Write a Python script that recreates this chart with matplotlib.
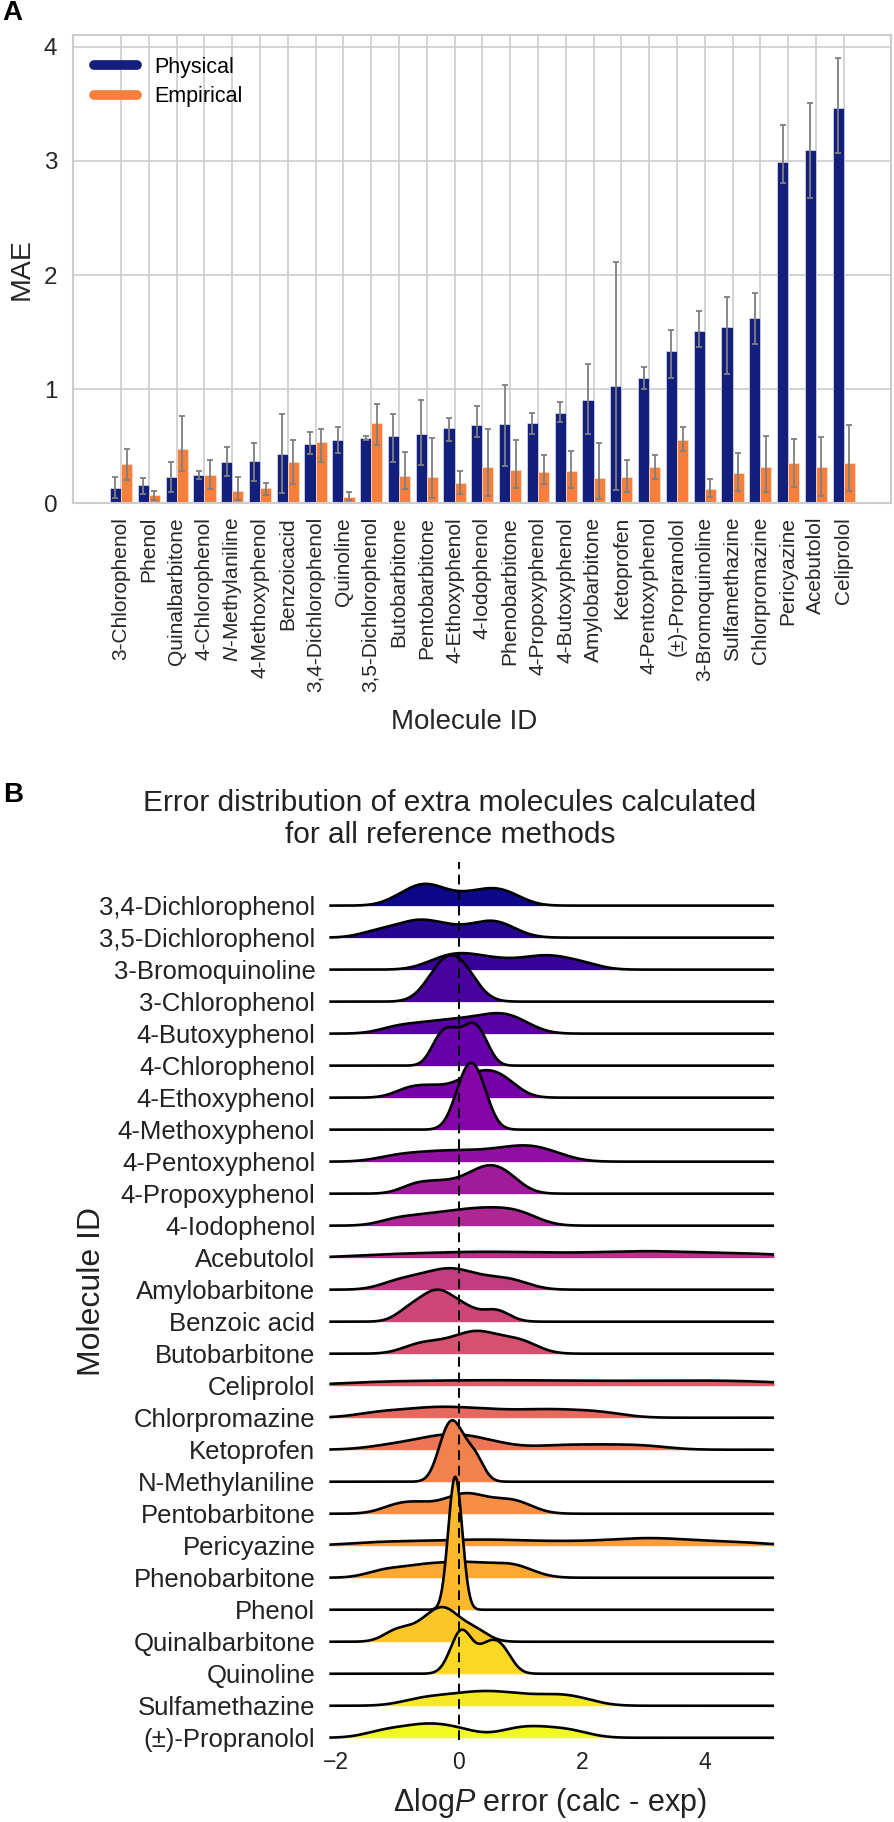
import numpy as np
import matplotlib
matplotlib.use("Agg")
import matplotlib.pyplot as plt
from matplotlib.lines import Line2D

plt.rcParams['font.family'] = ['Liberation Sans', 'DejaVu Sans']
plt.rcParams['mathtext.fontset'] = 'custom'
plt.rcParams['mathtext.rm'] = 'Liberation Sans'
plt.rcParams['mathtext.it'] = 'Liberation Sans:italic'

# ---- panel A data: MAE per molecule with confidence interval ----
bar_molecules = ["3-Chlorophenol", "Phenol", "Quinalbarbitone", "4-Chlorophenol",
                 r"$\mathit{N}$-Methylaniline", "4-Methoxyphenol", "Benzoicacid",
                 "3,4-Dichlorophenol", "Quinoline", "3,5-Dichlorophenol", "Butobarbitone",
                 "Pentobarbitone", "4-Ethoxyphenol", "4-Iodophenol", "Phenobarbitone",
                 "4-Propoxyphenol", "4-Butoxyphenol", "Amylobarbitone", "Ketoprofen",
                 "4-Pentoxyphenol", "(±)-Propranolol", "3-Bromoquinoline", "Sulfamethazine",
                 "Chlorpromazine", "Pericyazine", "Acebutolol", "Celiprolol"]

physical_mae = [0.134, 0.155, 0.228, 0.246, 0.363, 0.368, 0.433, 0.517, 0.553, 0.570,
                0.585, 0.608, 0.661, 0.681, 0.696, 0.705, 0.792, 0.901, 1.026, 1.094,
                1.333, 1.506, 1.547, 1.620, 2.994, 3.094, 3.468]
physical_lo = [0.040, 0.076, 0.096, 0.213, 0.234, 0.190, 0.090, 0.433, 0.440, 0.550,
               0.357, 0.333, 0.547, 0.582, 0.325, 0.602, 0.711, 0.602, 0.117, 1.000,
               1.099, 1.371, 1.129, 1.395, 2.807, 2.678, 3.070]
physical_hi = [0.230, 0.220, 0.357, 0.278, 0.488, 0.526, 0.778, 0.626, 0.664, 0.590,
               0.780, 0.904, 0.749, 0.851, 1.035, 0.792, 0.886, 1.220, 2.110, 1.190,
               1.518, 1.684, 1.807, 1.845, 3.316, 3.506, 3.904]

empirical_mae = [0.340, 0.067, 0.474, 0.249, 0.110, 0.130, 0.360, 0.538, 0.056, 0.699,
                 0.234, 0.228, 0.175, 0.316, 0.287, 0.275, 0.278, 0.216, 0.231, 0.313,
                 0.553, 0.120, 0.263, 0.313, 0.354, 0.319, 0.351]
empirical_lo = [0.200, 0.024, 0.278, 0.123, 0.026, 0.070, 0.164, 0.363, 0.024, 0.506,
                0.123, 0.044, 0.079, 0.059, 0.129, 0.164, 0.129, 0.035, 0.096, 0.208,
                0.453, 0.053, 0.102, 0.096, 0.143, 0.061, 0.105]
empirical_hi = [0.470, 0.110, 0.766, 0.377, 0.230, 0.175, 0.555, 0.649, 0.094, 0.868,
                0.445, 0.570, 0.281, 0.646, 0.555, 0.424, 0.453, 0.529, 0.375, 0.424,
                0.667, 0.213, 0.436, 0.585, 0.558, 0.582, 0.687]

# ---- panel B data: logP errors of the reference methods per molecule ----
ridge_molecules = ["3,4-Dichlorophenol", "3,5-Dichlorophenol", "3-Bromoquinoline",
                   "3-Chlorophenol", "4-Butoxyphenol", "4-Chlorophenol", "4-Ethoxyphenol",
                   "4-Methoxyphenol", "4-Pentoxyphenol", "4-Propoxyphenol", "4-Iodophenol",
                   "Acebutolol", "Amylobarbitone", "Benzoic acid", "Butobarbitone",
                   "Celiprolol", "Chlorpromazine", "Ketoprofen", "N-Methylaniline",
                   "Pentobarbitone", "Pericyazine", "Phenobarbitone", "Phenol",
                   "Quinalbarbitone", "Quinoline", "Sulfamethazine", "(±)-Propranolol"]

ridge_errors = [
    [-0.9, -0.65, -0.5, -0.35, 0.05, 0.4, 0.6, 0.85],
    [-1.3, -0.85, -0.65, -0.45, -0.1, 0.35, 0.55, 0.75],
    [-0.35, -0.1, 0.1, 0.35, 0.7, 1.1, 1.4, 1.6, 2.0],
    [-0.35, -0.12, 0.1],
    [-1.0, -0.55, -0.2, 0.1, 0.4, 0.6, 0.8, 1.0],
    [-0.35, -0.2, -0.05, 0.15, 0.25, 0.4],
    [-0.8, -0.4, 0.05, 0.25, 0.45, 0.6, 0.8],
    [0.05, 0.2, 0.35],
    [-1.0, -0.5, -0.1, 0.3, 0.7, 1.0, 1.2, 1.5],
    [-0.7, -0.3, 0.1, 0.35, 0.5, 0.65, 0.85],
    [-1.0, -0.55, -0.2, 0.1, 0.35, 0.6, 0.85, 1.1],
    [-1.2, -0.3, 0.3, 0.9, 1.6, 2.4, 3.0, 3.4, 4.2, 5.0],
    [-1.0, -0.6, -0.3, -0.1, 0.1, 0.5, 0.9],
    [-0.8, -0.5, -0.35, -0.2, 0.1, 0.6],
    [-0.7, -0.35, 0.0, 0.2, 0.35, 0.55, 0.85, 1.1],
    [-1.5, -0.6, 0.2, 0.9, 1.7, 2.6, 3.4, 4.2, 5.0],
    [-1.3, -0.7, -0.3, 0.1, 0.6, 1.2, 1.7, 2.3],
    [-1.1, -0.6, -0.3, -0.15, 0.0, 0.25, 0.6, 1.6, 2.3, 3.0],
    [-0.25, -0.12, 0.0, 0.25],
    [-1.0, -0.6, -0.1, 0.1, 0.3, 0.7, 1.0],
    [-1.3, -0.4, 0.3, 0.9, 1.8, 2.7, 3.1, 3.6, 4.5],
    [-1.2, -0.7, -0.35, 0.0, 0.3, 0.7, 1.0],
    [-0.12, -0.06, 0.0],
    [-1.0, -0.6, -0.35, -0.25, -0.1, 0.25],
    [0.0, 0.08, 0.45, 0.7],
    [-0.6, -0.1, 0.3, 0.6, 1.0, 1.5, 1.9],
    [-1.2, -0.7, -0.4, 0.0, 0.9, 1.3, 1.8],
]
ridge_bw = [0.28, 0.3, 0.3, 0.25, 0.3, 0.15, 0.25, 0.18, 0.35, 0.25, 0.3, 0.6, 0.3, 0.22,
            0.27, 0.7, 0.4, 0.42, 0.15, 0.28, 0.55, 0.3, 0.1, 0.22, 0.17, 0.35, 0.33]
ridge_xticks = [-2, 0, 2, 4]

PHYS_COLOR = '#121f7d'
EMP_COLOR = '#f77f3c'
GRID = '#cccccc'

fig = plt.figure(figsize=(8.95, 18.22), dpi=100)

# ------------------------------------------------------------ panel A
ax = fig.add_axes([0.0812, 0.7239, 0.9143, 0.2569])
x = np.arange(len(bar_molecules))
w = 0.4
phys = np.array(physical_mae)
emp = np.array(empirical_mae)
phys_err = [phys - np.array(physical_lo), np.array(physical_hi) - phys]
emp_err = [emp - np.array(empirical_lo), np.array(empirical_hi) - emp]

ax.bar(x - w / 2, phys, w, color=PHYS_COLOR, edgecolor='#dde0ee', linewidth=0.5, zorder=2)
ax.bar(x + w / 2, emp, w, color=EMP_COLOR, edgecolor='#fde0d0', linewidth=0.5, zorder=2)
ax.errorbar(x - w / 2, phys, yerr=phys_err, fmt='none', ecolor='#7f7f7f',
            elinewidth=1.3, capsize=2.5, capthick=1.3, zorder=3)
ax.errorbar(x + w / 2, emp, yerr=emp_err, fmt='none', ecolor='#7f7f7f',
            elinewidth=1.3, capsize=2.5, capthick=1.3, zorder=3)

ax.set_xlim(-1.74, 27.7)
ax.set_ylim(0, 4.105)
ax.set_xticks(x)
ax.set_xticklabels(bar_molecules, rotation=90, fontsize=15, color='#262626')
ax.set_yticks([0, 1, 2, 3, 4])
ax.tick_params(axis='y', length=0, pad=11, labelsize=17.5, labelcolor='#262626')
ax.tick_params(axis='x', length=0, pad=10)
ax.grid(True, color=GRID, linewidth=1.2, zorder=0)
ax.set_axisbelow(True)
for s in ax.spines.values():
    s.set_color(GRID)
    s.set_linewidth(1.5)

handles = [Line2D([], [], color=PHYS_COLOR, lw=7, solid_capstyle='round'),
           Line2D([], [], color=EMP_COLOR, lw=7, solid_capstyle='round')]
ax.legend(handles, ['Physical', 'Empirical'], loc='upper left', frameon=False,
          fontsize=15.5, handlelength=2.0, handletextpad=0.8, labelspacing=0.4,
          borderaxespad=0.6, bbox_to_anchor=(0.0, 1.0))

fig.text(21.7 / 895, 1 - 269 / 1822, 'MAE', rotation=90, fontsize=20.5,
         ha='center', va='center', color='#262626')
fig.text(464 / 895, 1 - 722 / 1822, 'Molecule ID', fontsize=20,
         ha='center', va='center', color='#262626')
fig.text(12 / 895, 1 - 13 / 1822, 'A', fontsize=20, fontweight='bold',
         ha='center', va='center')

# ------------------------------------------------------------ panel B
bx = fig.add_axes([0.368, 0.04501, 0.4968, 0.4821])
x_min, x_max = -2.11, 5.13
xg = np.linspace(x_min, x_max, 700)
scale = 1.17
cmap = plt.get_cmap('plasma')
n = len(ridge_molecules)

for i, (errs, bw) in enumerate(zip(ridge_errors, ridge_bw)):
    s = np.array(errs)
    dens = np.exp(-0.5 * ((xg[:, None] - s[None, :]) / bw) ** 2).sum(axis=1)
    dens = dens / (len(s) * bw * np.sqrt(2 * np.pi))
    base = -i
    y = base + dens * scale
    bx.fill_between(xg, base, y, color=cmap(i / (n - 1)), lw=0, zorder=2 * i + 1,
                    clip_on=False)
    bx.plot(xg, y, color='black', lw=1.9, zorder=2 * i + 2, clip_on=False,
            solid_capstyle='butt')

bx.axvline(0, color='black', lw=1.4, ls=(0, (5, 3)), zorder=200)
bx.set_xlim(x_min, x_max)
bx.set_ylim(-26.07, 1.375)
bx.set_yticks([-i for i in range(n)])
bx.set_yticklabels(ridge_molecules, fontsize=18.5, color='#222222')
bx.set_xticks(ridge_xticks)
bx.set_xticklabels(['\u22122', '0', '2', '4'])
bx.tick_params(axis='y', length=0, pad=10)
bx.tick_params(axis='x', length=0, pad=8, labelsize=16.5, labelcolor='#222222')
for s in bx.spines.values():
    s.set_visible(False)
bx.patch.set_alpha(0)

fig.text(450 / 895, 1 - 819 / 1822,
         'Error distribution of extra molecules calculated\nfor all reference methods',
         fontsize=21.5, ha='center', va='center', linespacing=1.15, color='#222222')
fig.text(92 / 895, 1 - 1292 / 1822, 'Molecule ID', rotation=90, fontsize=23,
         ha='center', va='center', color='#222222')
fig.text(549.5 / 895, 1 - 1803 / 1822, r'$\Delta$log$\mathit{P}$ error (calc - exp)',
         fontsize=22, ha='center', va='center', color='#222222')
fig.text(13 / 895, 1 - 795 / 1822, 'B', fontsize=20, fontweight='bold',
         ha='center', va='center')

fig.savefig('out.png', dpi=100)
